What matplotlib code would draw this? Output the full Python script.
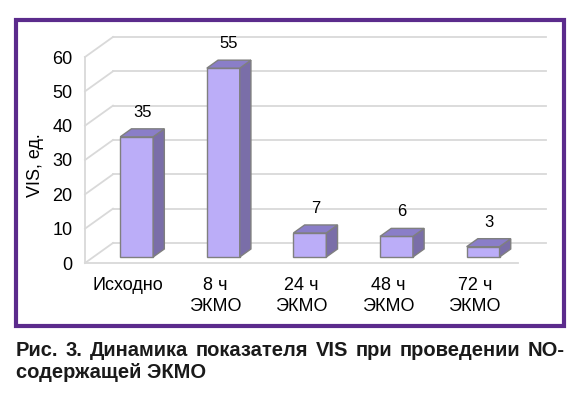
import matplotlib
matplotlib.use("Agg")
import matplotlib.pyplot as plt
from matplotlib.patches import Polygon, Rectangle

plt.rcParams['font.family'] = ['Liberation Sans', 'DejaVu Sans']

# data
categories = ["Исходно", "8 ч\nЭКМО", "24 ч\nЭКМО", "48 ч\nЭКМО", "72 ч\nЭКМО"]
values = [35, 55, 7, 6, 3]
yticks = [0, 10, 20, 30, 40, 50, 60]
ylabel = "VIS, ед."
caption_line1 = "Рис. 3. Динамика показателя VIS при проведении NO-"
caption_line2 = "содержащей ЭКМО"

W, H = 576, 394
fig = plt.figure(figsize=(W / 100, H / 100), dpi=100)


def fx(px):
    return px / W


def fy(py):
    return 1 - py / H


# frame around chart
fig.patches.append(Rectangle((fx(16), fy(326)), fx(564) - fx(16), fy(20) - fy(326),
                             transform=fig.transFigure, fill=False,
                             edgecolor='#5b2b8c', linewidth=3))

ax = fig.add_axes([fx(85), fy(263), fx(518) - fx(85), fy(57) - fy(263)])
ax.set_xlim(-0.5, len(values) - 0.5)
ax.set_ylim(0, 60)
for s in ax.spines.values():
    s.set_visible(False)

# 3d look: depth of the walls in data units
DX = 0.323
DY = 5.83
f0 = 0.3    # bar front face depth
bd = 0.4    # bar depth
bw = 0.38   # bar width

grid_c = '#d9d9d9'
x0, x1 = -0.5, len(values) - 0.5
for v in yticks:
    ax.plot([x0 + DX, x1 + DX], [v + DY, v + DY], color=grid_c, lw=1.3, clip_on=False, zorder=1)
    ax.plot([x0, x0 + DX], [v, v + DY], color=grid_c, lw=1.3, clip_on=False, zorder=1)
ax.plot([x0, x0], [0, 60], color=grid_c, lw=1.3, clip_on=False, zorder=1)
ax.plot([x0, x1], [0, 0], color=grid_c, lw=1.3, clip_on=False, zorder=1)

front_c = '#bbadf8'
top_c = '#8a7ec8'
side_c = '#7a6ea8'
edge_c = '#7f7f7f'

xs = [i + f0 * DX for i in range(len(values))]
base = f0 * DY
ax.bar(xs, values, width=bw, bottom=base, color=front_c, edgecolor=edge_c,
       linewidth=1, zorder=3, clip_on=False)

for x, v in zip(xs, values):
    l, r = x - bw / 2, x + bw / 2
    top = base + v
    side = Polygon([(r, base), (r + bd * DX, base + bd * DY),
                    (r + bd * DX, top + bd * DY), (r, top)],
                   closed=True, facecolor=side_c, edgecolor=edge_c, lw=1, zorder=3, clip_on=False)
    lid = Polygon([(l, top), (r, top), (r + bd * DX, top + bd * DY), (l + bd * DX, top + bd * DY)],
                  closed=True, facecolor=top_c, edgecolor=edge_c, lw=1, zorder=3, clip_on=False)
    ax.add_patch(side)
    ax.add_patch(lid)
    ax.annotate(str(v), (x + bd * DX / 2, top + bd * DY), xytext=(0, 12),
                textcoords='offset points', ha='center', va='center', fontsize=12)

ax.set_yticks(yticks)
ax.set_yticklabels([str(t) for t in yticks], fontsize=13)
ax.set_xticks(range(len(values)))
ax.set_xticklabels(categories, fontsize=13, linespacing=1.3)
ax.tick_params(axis='y', length=0, pad=9)
ax.tick_params(axis='x', length=0, pad=10)
ax.patch.set_visible(False)

fig.text(fx(35), fy(165), ylabel, rotation=90, ha='center', va='center', fontsize=13)

# caption, first line justified
words = caption_line1.split(" ")
r = fig.canvas.get_renderer()
texts = [fig.text(0, fy(356), w, fontsize=14.5, fontweight='bold', va='baseline', color='#1a1a1a')
         for w in words]
widths = [t.get_window_extent(r).width for t in texts]
gap = (565 - 16 - sum(widths)) / (len(words) - 1)
pos = 16
for t, w in zip(texts, widths):
    t.set_x(fx(pos))
    pos += w + gap
fig.text(fx(16), fy(378), caption_line2, fontsize=14.5, fontweight='bold', va='baseline', color='#1a1a1a')

fig.savefig("out.png", dpi=100)
